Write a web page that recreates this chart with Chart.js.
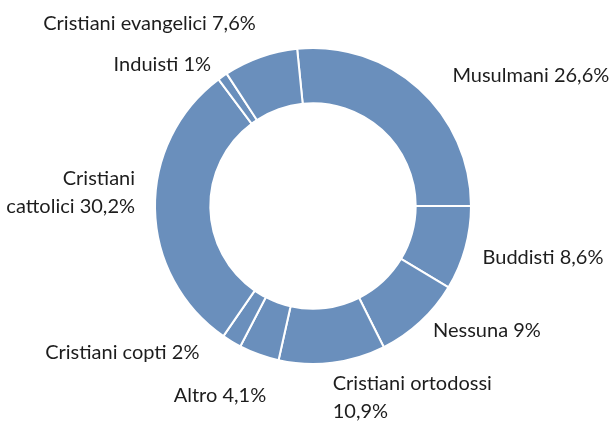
<!DOCTYPE html>
<html>
<head>
<meta charset="utf-8">
<script src="https://cdn.jsdelivr.net/npm/chart.js@4.4.1/dist/chart.umd.min.js"></script>
<style>
  html, body { margin: 0; padding: 0; background: #fff; }
  #wrap { width: 611px; height: 423px; }
</style>
</head>
<body>
<div id="wrap"><canvas id="chartReligioni" width="611" height="423"></canvas></div>
<script>
// Religioni - quota percentuale
const categorie = ['Musulmani', 'Buddisti', 'Nessuna', 'Cristiani ortodossi', 'Altro',
    'Cristiani copti', 'Cristiani cattolici', 'Induisti', 'Cristiani evangelici'];
const quote = [26.6, 8.6, 9, 10.9, 4.1, 2, 30.2, 1, 7.6];
// testo delle etichette (con a capo dove serve)
const etichette = ['Musulmani 26,6%', 'Buddisti 8,6%', 'Nessuna 9%', 'Cristiani ortodossi\n10,9%',
    'Altro 4,1%', 'Cristiani copti 2%', 'Cristiani\ncattolici 30,2%', 'Induisti 1%',
    'Cristiani evangelici 7,6%'];
// piccoli spostamenti delle etichette [dx, dy]
const spostamenti = [[20, 2], [-2, 4], [-1, -6], [-2, 1], [14, 22], [-22, -6], [0, -3], [0, 4], [2, -15]];

const FONT = '20px Lato, "Noto Sans", sans-serif';

const etichettePlugin = {
    id: 'etichetteEsterne',
    afterDatasetsDraw(chart) {
        const ctx = chart.ctx;
        const meta = chart.getDatasetMeta(0);
        ctx.save();
        ctx.font = FONT;
        ctx.fillStyle = '#1d1d1d';
        ctx.textBaseline = 'middle';
        meta.data.forEach(function(arc, i) {
            const p = arc.getProps(['x', 'y', 'startAngle', 'endAngle', 'outerRadius'], true);
            const mid = (p.startAngle + p.endAngle) / 2;
            const r = p.outerRadius + 20;
            const c = Math.cos(mid), s = Math.sin(mid);
            const x = p.x + r * c + spostamenti[i][0];
            let y = p.y + r * s + spostamenti[i][1];
            const righe = etichette[i].split('\n');
            // parte alta / di lato: ultima riga sul punto, parte bassa: prima riga
            if (s < 0.2) y -= (righe.length - 1) * 28;
            ctx.textAlign = c >= 0 ? 'left' : 'right';
            righe.forEach(function(t, k) {
                ctx.fillText(t, x, y + k * 28);
            });
        });
        ctx.restore();
    }
};

const ctxR = document.getElementById('chartReligioni').getContext('2d');
const chartR = new Chart(ctxR, {
    type: 'doughnut',
    data: {
        labels: categorie,
        datasets: [{
            data: quote,
            backgroundColor: '#6a8fbc',
            borderColor: '#ffffff',
            borderWidth: 2
        }]
    },
    options: {
        responsive: false,
        animation: false,
        cutout: '65%',
        rotation: -5.76,
        layout: {
            padding: { top: 47, bottom: 58, left: 146, right: 131 }
        },
        plugins: {
            legend: { display: false },
            tooltip: { enabled: false }
        }
    },
    plugins: [etichettePlugin]
});
</script>
</body>
</html>
